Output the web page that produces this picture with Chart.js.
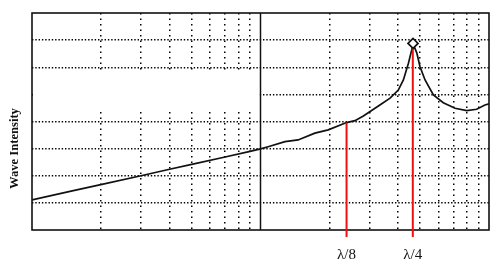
<!DOCTYPE html>
<html>
<head>
<meta charset="utf-8">
<script src="https://cdn.jsdelivr.net/npm/chart.js@4/dist/chart.umd.min.js"></script>
<style>
  html,body{margin:0;padding:0;background:#fff;}
  #wrap{width:500px;height:269px;position:relative;}
</style>
</head>
<body>
<div id="wrap"><canvas id="c"></canvas></div>
<script>
// ---- data ----
const curveX = [1, 1.5, 2, 3, 4, 5, 7, 9, 10, 10.8, 12.8, 14.6, 17.3, 19.8, 23.8, 25.9, 28.2, 33.3, 36.9, 40.1, 42.2, 44.4, 45.9, 46.5, 48.3, 49.9, 52.5, 57.1, 63.1, 71.0, 79.9, 88.3, 96.0, 100];
const curveY = [1.11, 1.44, 1.67, 2.00, 2.24, 2.42, 2.69, 2.90, 2.99, 3.07, 3.26, 3.32, 3.57, 3.69, 3.96, 4.03, 4.20, 4.61, 4.86, 5.16, 5.53, 6.15, 6.64, 6.86, 6.53, 6.02, 5.53, 4.98, 4.69, 4.49, 4.40, 4.45, 4.61, 4.65];
const markerLabels = ['λ/8', 'λ/4'];
const markerX = [23.8, 46.4];
const markerTop = [3.96, 6.76];
const markerBottom = -0.26;
const peakX = 46.5, peakY = 6.88;
const dividerX = 10;
const gridX = [2,3,4,5,6,7,8,9,20,30,40,50,60,70,80,90];
const gridY = [1,2,3,4,5,6,7];
const yTitle = 'Wave Intensity';

const pts = curveX.map((x,i)=>({x, y: curveY[i]}));

const decor = {
  id: 'decor',
  beforeDatasetsDraw(chart){
    const {ctx, chartArea:a, scales:{x,y}} = chart;
    ctx.save();
    // blank patch in the left half of the grid
    const y1 = y.getPixelForValue(5.86), y2 = y.getPixelForValue(4.39);
    ctx.fillStyle = '#fff';
    ctx.fillRect(a.left+1, y1, x.getPixelForValue(dividerX)-a.left-2, y2-y1);
    ctx.strokeStyle = '#111';
    ctx.lineWidth = 1.6;
    ctx.strokeRect(a.left, a.top, a.right-a.left, a.bottom-a.top);
    ctx.restore();
  },
  afterDraw(chart){
    const {ctx, chartArea:a, scales:{x}} = chart;
    ctx.save();
    ctx.fillStyle = '#111';
    ctx.font = '15px "Liberation Serif", "DejaVu Serif", serif';
    ctx.textAlign = 'center';
    ctx.textBaseline = 'alphabetic';
    markerLabels.forEach((t,i)=>{
      ctx.fillText(t, x.getPixelForValue(markerX[i]), a.bottom + 29);
    });
    ctx.translate(17.5, 148.5);
    ctx.rotate(-Math.PI/2);
    ctx.font = 'bold 12.6px "Liberation Serif", "DejaVu Serif", serif';
    ctx.fillText(yTitle, 0, 0);
    ctx.restore();
  }
};

new Chart(document.getElementById('c'), {
  type: 'line',
  data: {
    datasets: [
      { data: [{x: peakX, y: peakY}], showLine: false, pointStyle: 'rectRot', pointRadius: 5,
        pointBackgroundColor: '#fff', pointBorderColor: '#111', pointBorderWidth: 1.7, order: 0 },
      { data: [{x: markerX[0], y: markerBottom}, {x: markerX[0], y: markerTop[0]}], borderColor: '#f01010',
        borderWidth: 2, pointRadius: 0, clip: false, order: 1 },
      { data: [{x: markerX[1], y: markerBottom}, {x: markerX[1], y: markerTop[1]}], borderColor: '#f01010',
        borderWidth: 2, pointRadius: 0, clip: false, order: 1 },
      { data: pts, borderColor: '#111', borderWidth: 1.7, pointRadius: 0, tension: 0, order: 2 },
      { data: [{x: dividerX, y: 0}, {x: dividerX, y: 8}], borderColor: '#111', borderWidth: 1.5, pointRadius: 0, order: 3 }
    ]
  },
  options: {
    responsive: true,
    maintainAspectRatio: false,
    animation: false,
    layout: { padding: { left: 32, top: 13, right: 11, bottom: 39 } },
    plugins: { legend: { display: false }, tooltip: { enabled: false } },
    scales: {
      x: {
        type: 'logarithmic', min: 1, max: 100,
        afterBuildTicks: s => { s.ticks = gridX.map(v => ({value: v})); },
        ticks: { display: false },
        grid: { color: '#000', lineWidth: 1.5, drawTicks: false },
        border: { display: false, dash: [1.4, 4.1] }
      },
      y: {
        type: 'linear', min: 0, max: 8,
        afterBuildTicks: s => { s.ticks = gridY.map(v => ({value: v})); },
        ticks: { display: false },
        grid: { color: '#000', lineWidth: 1.5, drawTicks: false },
        border: { display: false, dash: [1.4, 1.9] }
      }
    }
  },
  plugins: [decor]
});
</script>
</body>
</html>
